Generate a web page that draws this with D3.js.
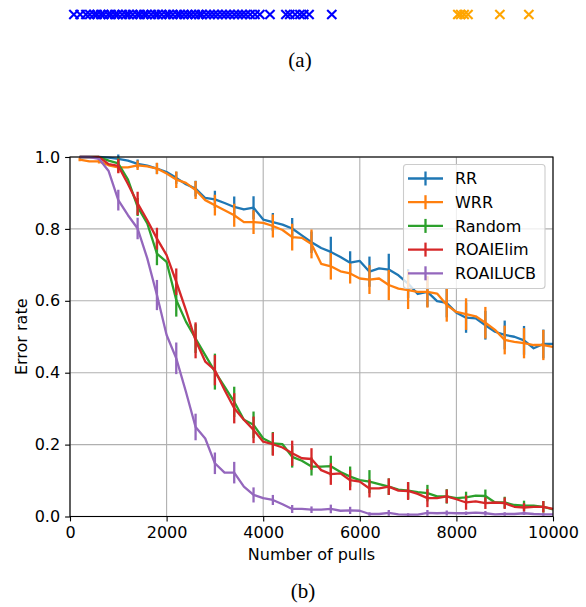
<!DOCTYPE html>
<html><head><meta charset="utf-8">
<script src="https://cdn.jsdelivr.net/npm/d3@7"></script>
<style>body{margin:0;background:#fff}svg{display:block}</style>
</head><body>
<script>
// ---------- data ----------
const pulls = [200,400,600,800,1000,1200,1400,1600,1800,2000,2200,2400,2600,2800,3000,3200,3400,3600,3800,4000,
  4200,4400,4600,4800,5000,5200,5400,5600,5800,6000,6200,6400,6600,6800,7000,7200,7400,7600,7800,8000,
  8200,8400,8600,8800,9000,9200,9400,9600,9800,10000];
const seriesNames = ["RR","WRR","Random","ROAIElim","ROAILUCB"];
const seriesColors = ["#1f77b4","#ff7f0e","#2ca02c","#d62728","#9467bd"];
const rr = [1.000,1.000,1.000,0.998,0.995,0.990,0.981,0.976,0.968,0.958,0.942,0.924,0.912,0.886,0.882,0.872,0.861,0.854,0.859,0.826,
  0.819,0.812,0.801,0.782,0.763,0.747,0.736,0.722,0.706,0.711,0.681,0.690,0.687,0.671,0.648,0.619,0.625,0.599,0.594,0.567,
  0.553,0.551,0.532,0.514,0.505,0.500,0.490,0.468,0.480,0.480];
const wrr = [0.993,0.988,0.988,0.977,0.971,0.971,0.977,0.974,0.968,0.954,0.937,0.928,0.908,0.880,0.866,0.852,0.838,0.819,0.819,0.817,
  0.808,0.797,0.777,0.775,0.758,0.703,0.696,0.682,0.676,0.662,0.659,0.662,0.644,0.634,0.630,0.625,0.625,0.620,0.588,0.569,
  0.563,0.557,0.539,0.519,0.491,0.486,0.482,0.477,0.477,0.472];
const random = [1.000,1.000,1.000,0.990,0.982,0.937,0.861,0.815,0.731,0.708,0.602,0.542,0.495,0.449,0.403,0.361,0.319,0.269,0.255,0.217,
  0.203,0.201,0.166,0.155,0.139,0.139,0.140,0.124,0.111,0.101,0.097,0.090,0.083,0.075,0.072,0.068,0.065,0.056,0.056,0.051,
  0.053,0.058,0.057,0.039,0.039,0.032,0.030,0.030,0.027,0.020];
const roaiElim = [1.000,1.000,1.000,0.980,0.975,0.925,0.871,0.824,0.773,0.727,0.653,0.574,0.490,0.431,0.407,0.352,0.301,0.269,0.241,0.208,
  0.201,0.192,0.176,0.162,0.160,0.129,0.118,0.120,0.101,0.097,0.078,0.078,0.083,0.072,0.071,0.063,0.051,0.051,0.056,0.048,
  0.039,0.042,0.037,0.039,0.037,0.027,0.025,0.027,0.027,0.021];
const roaiLucb = [1.000,1.000,0.995,0.961,0.880,0.838,0.801,0.718,0.616,0.505,0.440,0.347,0.249,0.217,0.148,0.122,0.122,0.083,0.060,0.051,
  0.046,0.034,0.021,0.021,0.019,0.019,0.021,0.016,0.017,0.016,0.007,0.007,0.010,0.006,0.005,0.005,0.010,0.009,0.010,0.009,
  0.009,0.011,0.009,0.006,0.007,0.007,0.009,0.007,0.006,0.006];
// error half-widths at every second point (pulls 200, 600, 1000, ...)
const rrErr = [0,0.003,0.012,0.012,0.015,0.017,0.022,0.024,0.029,0.032,0.025,0.029,0.030,0.042,0.032,0.042,0.044,0.040,0.042,0.040,0.042,0.040,0.040,0.040,0.040];
const wrrErr = [0.005,0.006,0.014,0.013,0.016,0.023,0.025,0.029,0.032,0.033,0.032,0.037,0.040,0.037,0.028,0.040,0.042,0.053,0.044,0.046,0.044,0.044,0.040,0.042,0.042];
const randomErr = [0,0.002,0.016,0.025,0.032,0.046,0.040,0.050,0.042,0.037,0.032,0.030,0.025,0.029,0.028,0.032,0.023,0.023,0.023,0.020,0.016,0.018,0.016,0.014,0.016];
const roaiElimErr = [0,0.002,0.020,0.032,0.030,0.037,0.050,0.042,0.042,0.037,0.032,0.035,0.030,0.030,0.028,0.025,0.023,0.025,0.025,0.019,0.020,0.016,0.016,0.012,0.016];
const roaiLucbErr = [0,0.003,0.029,0.030,0.042,0.044,0.037,0.030,0.030,0.021,0.014,0.011,0.009,0.012,0.010,0.005,0.008,0.004,0.008,0.007,0.005,0.006,0.005,0.005,0.004];
const xTicks = [0,2000,4000,6000,8000,10000];
const yTicks = [0.0,0.2,0.4,0.6,0.8,1.0];
// panel (a) marker positions (arbitrary units 0..1000)
const stripBlue = [8,21,33,41,50,56,64,70,79,85,93,99,108,116,122,130,139,145,153,159,168,176,182,190,199,205,213,222,228,236,
  244,251,259,267,273,282,290,298,306,315,323,331,340,348,356,364,373,383,393,414,447,455,466,476,484,495,542];
const stripOrange = [803,809,816,824,890,950];

// ---------- drawing ----------
const W = 586, H = 607;
const svg = d3.select("body").append("svg").attr("width", W).attr("height", H);
const L = 70, R = 553, T = 157, B = 516.5;
const x = d3.scaleLinear().domain([0,10000]).range([L,R]);
const y = d3.scaleLinear().domain([0,1]).range([B,T]);
const font = "DejaVu Sans, sans-serif";
const fs = 16;

// panel (a)
const xs = d3.scaleLinear().domain([0,1000]).range([L,R]);
function crosses(vals, color){
  const g = svg.append("g").attr("stroke", color).attr("stroke-width", 2.1).attr("fill","none");
  vals.forEach(v => {
    const cx = xs(v), cy = 14.5, s = 4.6;
    g.append("path").attr("d", `M${cx-s},${cy-s}L${cx+s},${cy+s}M${cx-s},${cy+s}L${cx+s},${cy-s}`);
  });
}
crosses(stripBlue, "#0000ff");
crosses(stripOrange, "#ffa500");
svg.append("text").attr("x", 300).attr("y", 67).attr("text-anchor","middle")
  .attr("font-family","Liberation Serif, serif").attr("font-size", 21).text("(a)");

// grid
const grid = svg.append("g").attr("stroke","#b0b0b0").attr("stroke-width",1.1);
xTicks.forEach(t => grid.append("line").attr("x1",x(t)).attr("x2",x(t)).attr("y1",T).attr("y2",B));
yTicks.forEach(t => grid.append("line").attr("x1",L).attr("x2",R).attr("y1",y(t)).attr("y2",y(t)));

// series
const allVals = [rr, wrr, random, roaiElim, roaiLucb];
const allErr = [rrErr, wrrErr, randomErr, roaiElimErr, roaiLucbErr];
svg.append("clipPath").attr("id","clip").append("rect").attr("x",L).attr("y",T-3).attr("width",R-L+2).attr("height",B-T+3);
const plot = svg.append("g").attr("clip-path","url(#clip)");
const line = d3.line().x((d,i) => x(pulls[i])).y(d => y(d));
allVals.forEach((vals, k) => {
  const g = plot.append("g");
  g.append("path").attr("d", line(vals)).attr("fill","none").attr("stroke", seriesColors[k])
    .attr("stroke-width", 2.3).attr("stroke-linejoin","round");
  allErr[k].forEach((e, j) => {
    const i = j*2;
    g.append("line").attr("x1", x(pulls[i])).attr("x2", x(pulls[i]))
      .attr("y1", y(vals[i]-e)).attr("y2", y(vals[i]+e))
      .attr("stroke", seriesColors[k]).attr("stroke-width", 2.3);
  });
});

// axes
const xAxis = d3.axisBottom(x).tickValues(xTicks).tickFormat(d3.format("d")).tickSizeOuter(0).tickSize(4.9).tickPadding(5);
const yAxis = d3.axisLeft(y).tickValues(yTicks).tickFormat(d3.format(".1f")).tickSizeOuter(0).tickSize(4.9).tickPadding(5);
const gx = svg.append("g").attr("transform", `translate(0,${B})`).call(xAxis);
const gy = svg.append("g").attr("transform", `translate(${L},0)`).call(yAxis);
[gx, gy].forEach(g => {
  g.select(".domain").remove();
  g.selectAll("line").attr("stroke","#000").attr("stroke-width",1.1);
  g.selectAll("text").attr("font-family", font).attr("font-size", fs).attr("fill","#000");
});
svg.append("rect").attr("x",L).attr("y",T).attr("width",R-L).attr("height",B-T)
  .attr("fill","none").attr("stroke","#000").attr("stroke-width",1.1);

svg.append("text").attr("x", (L+R)/2).attr("y", 559.5).attr("text-anchor","middle")
  .attr("font-family",font).attr("font-size",fs).text("Number of pulls");
svg.append("text").attr("transform", `translate(26.5,${(T+B)/2}) rotate(-90)`).attr("text-anchor","middle")
  .attr("font-family",font).attr("font-size",fs).text("Error rate");
svg.append("text").attr("x", 303).attr("y", 598).attr("text-anchor","middle")
  .attr("font-family","Liberation Serif, serif").attr("font-size", 21).text("(b)");

// legend
const lg = svg.append("g");
lg.append("rect").attr("x",403.5).attr("y",164.5).attr("width",141.5).attr("height",124).attr("rx",3)
  .attr("fill","#fff").attr("fill-opacity",0.8).attr("stroke","#cccccc").attr("stroke-width",1.1);
seriesNames.forEach((name, k) => {
  const cy = 178.5 + k*23.7;
  lg.append("line").attr("x1",408).attr("x2",443).attr("y1",cy).attr("y2",cy).attr("stroke",seriesColors[k]).attr("stroke-width",2.3);
  lg.append("line").attr("x1",425.5).attr("x2",425.5).attr("y1",cy-7).attr("y2",cy+7).attr("stroke",seriesColors[k]).attr("stroke-width",2.3);
  lg.append("text").attr("x",455).attr("y",cy+5.8).attr("font-family",font).attr("font-size",fs).text(name);
});
</script>
</body></html>
